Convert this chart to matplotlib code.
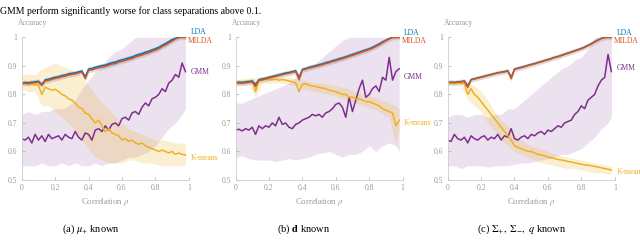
import numpy as np
import matplotlib
matplotlib.use("Agg")
import matplotlib.pyplot as plt

plt.rcParams['font.family'] = ['Liberation Serif', 'DejaVu Serif']
plt.rcParams['mathtext.fontset'] = 'stix'

# correlation grid for the mean curves and for the bands
rho = np.round(np.arange(0, 1.0, 0.02), 2)
rho_band = [0, .04, .08, .12, .16, .20, .24, .28, .32, .36, .40, .44, .48,
            .52, .56, .60, .64, .68, .72, .76, .80, .84, .88, .92, .96, .98]

# ---- panel (a): mu+ known
lda_a = [.84, .842, .841, .843, .844, .846, .835, .851, .853, .857, .86, .862, .866, .868, .872, .874, .876,
         .879, .882, .862, .889, .891, .895, .898, .901, .903, .907, .911, .913, .918, .921, .924, .928, .931,
         .936, .94, .943, .948, .951, .956, .96, .965, .972, .978, .985, .992, .997, 1.0, 1.0, 1.0]
milda_a = [.837, .839, .838, .840, .841, .843, .832, .847, .849, .853, .856, .858, .862, .864, .868, .870, .872,
           .875, .878, .855, .884, .886, .890, .893, .896, .898, .902, .906, .908, .913, .916, .919, .923, .926,
           .931, .935, .938, .943, .946, .951, .955, .960, .967, .973, .980, .987, .994, .999, 1.0, 1.0]
kmeans_a = [.84, .838, .835, .836, .834, .832, .80, .825, .82, .815, .818, .81, .80, .795, .785, .78, .77, .755,
            .75, .735, .73, .715, .70, .71, .69, .67, .68, .665, .66, .655, .64, .645, .635, .64, .63, .625, .63,
            .62, .615, .61, .605, .60, .605, .60, .595, .60, .59, .595, .59, .588]
kmeans_a_lo = [.82, .81, .81, .76, .76, .74, .72, .70, .67, .64, .61, .58, .57, .56, .56, .56, .57, .57, .56,
               .56, .555, .55, .55, .55, .55, .555]
kmeans_a_hi = [.87, .87, .87, .89, .90, .91, .90, .89, .88, .86, .83, .80, .77, .75, .72, .70, .68, .67, .66,
               .65, .64, .64, .635, .63, .63, .625]
gmm_a = [.645, .64, .65, .63, .66, .64, .655, .635, .66, .645, .65, .655, .64, .66, .65, .645, .67, .65, .64,
         .665, .66, .64, .675, .68, .67, .69, .675, .695, .70, .69, .715, .72, .71, .735, .74, .73, .755, .77,
         .76, .785, .79, .80, .82, .81, .84, .85, .87, .86, .91, .88]
gmm_a_lo = [.55, .55, .55, .56, .55, .55, .56, .55, .56, .55, .55, .56, .55, .56, .56, .57, .58, .58, .59, .60,
            .62, .65, .68, .70, .73, .75]
gmm_a_hi = [.73, .74, .73, .74, .74, .75, .75, .76, .78, .82, .85, .88, .90, .93, .95, .96, .98, 1.0, 1.0, 1.0,
            1.0, 1.0, 1.0, 1.0, 1.0, 1.0]

# ---- panel (b): d known
lda_b = [.842, .843, .842, .844, .845, .847, .835, .852, .854, .857, .86, .863, .866, .869, .872, .875, .877,
         .88, .883, .86, .888, .891, .895, .898, .901, .904, .907, .911, .914, .918, .921, .925, .928, .932,
         .936, .94, .944, .948, .952, .956, .96, .965, .971, .977, .984, .99, .996, 1.0, 1.0, 1.0]
milda_b = [.839, .840, .839, .841, .842, .844, .828, .849, .851, .854, .857, .860, .863, .866, .869, .872, .874,
           .877, .880, .852, .885, .888, .892, .895, .898, .901, .904, .908, .911, .915, .918, .922, .925, .929,
           .933, .937, .941, .945, .949, .953, .957, .962, .968, .974, .981, .988, .994, .999, 1.0, 1.0]
kmeans_b = [.84, .842, .843, .845, .846, .847, .81, .85, .852, .853, .852, .851, .853, .85, .852, .85, .847,
            .845, .84, .81, .835, .838, .832, .83, .828, .825, .822, .82, .815, .812, .81, .805, .80, .80, .79,
            .79, .785, .785, .78, .775, .775, .77, .765, .76, .75, .745, .74, .735, .69, .71]
kmeans_b_lo = [.83, .835, .835, .79, .84, .84, .84, .84, .835, .83, .82, .815, .81, .805, .80, .795, .785, .775,
               .77, .76, .755, .745, .73, .72, .62, .68]
kmeans_b_hi = [.85, .855, .857, .86, .862, .862, .862, .862, .86, .855, .85, .845, .84, .84, .835, .83, .825,
               .82, .81, .80, .795, .79, .78, .77, .76, .75]
gmm_b = [.675, .678, .672, .68, .675, .685, .66, .69, .68, .69, .685, .70, .69, .72, .695, .70, .685, .68, .695,
         .70, .71, .715, .72, .73, .725, .73, .72, .735, .74, .75, .765, .77, .755, .72, .79, .74, .78, .82, .85,
         .79, .80, .82, .83, .81, .86, .85, .93, .85, .88, .89]
gmm_b_lo = [.58, .585, .575, .57, .57, .57, .565, .57, .575, .57, .575, .58, .59, .595, .60, .59, .58, .59, .59,
            .60, .62, .60, .62, .63, .62, .60]
gmm_b_hi = [.77, .77, .78, .79, .80, .81, .82, .83, .84, .86, .88, .89, .91, .93, .95, .97, .99, 1.0, 1.0, 1.0,
            1.0, 1.0, 1.0, 1.0, 1.0, 1.0]

# ---- panel (c): Sigma+, Sigma-, q known
lda_c = [.842, .843, .842, .844, .845, .847, .83, .852, .855, .858, .861, .864, .867, .87, .873, .876, .878,
         .88, .883, .86, .889, .892, .895, .898, .902, .905, .908, .912, .915, .919, .922, .926, .93, .933,
         .937, .941, .945, .949, .953, .957, .961, .966, .972, .978, .985, .991, .997, 1.0, 1.0, 1.0]
milda_c = [.841, .842, .841, .843, .844, .846, .825, .851, .854, .857, .860, .863, .866, .869, .872, .875, .877,
           .879, .882, .855, .888, .891, .894, .897, .901, .904, .907, .911, .914, .918, .921, .925, .929, .932,
           .936, .940, .944, .948, .952, .956, .960, .965, .971, .977, .984, .990, .996, .999, 1.0, 1.0]
kmeans_c = [.84, .84, .841, .84, .839, .838, .80, .82, .80, .79, .775, .76, .745, .73, .715, .70, .685, .67,
            .655, .64, .62, .615, .61, .605, .60, .60, .595, .59, .588, .585, .58, .578, .575, .572, .57, .568,
            .565, .563, .56, .558, .555, .553, .552, .55, .548, .545, .543, .54, .538, .535]
kmeans_c_lo = [.83, .83, .83, .78, .76, .74, .70, .67, .64, .62, .60, .59, .58, .57, .56, .555, .55, .545, .54,
               .54, .535, .53, .525, .525, .52, .52]
kmeans_c_hi = [.85, .85, .85, .84, .83, .81, .78, .74, .71, .69, .66, .64, .625, .615, .61, .60, .59, .585, .58,
               .575, .57, .565, .56, .555, .55, .55]
gmm_c = [.64, .635, .66, .645, .64, .65, .63, .655, .645, .64, .65, .655, .64, .65, .645, .66, .64, .655, .65,
         .68, .645, .64, .65, .655, .645, .66, .655, .665, .67, .66, .675, .67, .68, .69, .685, .70, .705, .71,
         .73, .74, .76, .75, .78, .79, .80, .83, .85, .86, .94, .88]
gmm_c_lo = [.55, .55, .54, .55, .55, .55, .545, .55, .55, .55, .555, .56, .56, .565, .57, .575, .58, .59, .59,
            .60, .61, .63, .65, .68, .70, .72]
gmm_c_hi = [.72, .73, .73, .72, .73, .73, .72, .73, .73, .75, .75, .77, .79, .81, .83, .85, .87, .89, .90, .92,
            .93, .96, 1.0, 1.0, 1.0, 1.0]

lda_spread = 0.008   # half width of the grey band round LDA / MILDA

captions = [r"(a) $\mu_{+}$ known", r"(b) $\mathbf{d}$ known", r"(c) $\Sigma_{+},\ \Sigma_{-},\ q$ known"]
# label heights (accuracy units) for the curve names at the right of each panel
label_y = [(1.018, 0.988, 0.878, 0.577), (1.017, 0.988, 0.862, 0.700), (1.017, 0.988, 0.891, 0.529)]

panels = [
    (lda_a, milda_a, kmeans_a, kmeans_a_lo, kmeans_a_hi, gmm_a, gmm_a_lo, gmm_a_hi),
    (lda_b, milda_b, kmeans_b, kmeans_b_lo, kmeans_b_hi, gmm_b, gmm_b_lo, gmm_b_hi),
    (lda_c, milda_c, kmeans_c, kmeans_c_lo, kmeans_c_hi, gmm_c, gmm_c_lo, gmm_c_hi),
]

c_lda, c_milda, c_km, c_gmm = '#0072BD', '#D95319', '#EDB120', '#7E2F8E'
grey = '#a8a8a8'

fig = plt.figure(figsize=(6.4, 2.41), dpi=100)
lefts = [0.034, 0.368, 0.6995]
cap_x = [0.142, 0.475, 0.815]

for i, (lda, milda, km, km_lo, km_hi, gmm, gmm_lo, gmm_hi) in enumerate(panels):
    ax = fig.add_axes([lefts[i], 0.253, 0.261, 0.592])
    lda = np.array(lda); milda = np.array(milda)

    # bands first
    ax.fill_between(rho_band, gmm_lo, gmm_hi, color=c_gmm, alpha=0.14, lw=0)
    ax.fill_between(rho_band, km_lo, km_hi, color=c_km, alpha=0.2, lw=0)
    ax.fill_between(rho, np.minimum(lda, milda) - lda_spread, np.minimum(lda + lda_spread, 1.0),
                    color='#888888', alpha=0.3, lw=0)

    ax.plot(rho, gmm, color=c_gmm, lw=1.1)
    ax.plot(rho, km, color=c_km, lw=1.1)
    ax.plot(rho, lda, color=c_lda, lw=1.1)
    ax.plot(rho, milda, color=c_milda, lw=1.1)

    ax.set_xlim(0, 1)
    ax.set_ylim(0.5, 1)
    ax.set_xticks([0, 0.2, 0.4, 0.6, 0.8, 1])
    ax.set_xticklabels(['0', '0.2', '0.4', '0.6', '0.8', '1'])
    ax.set_yticks([0.5, 0.6, 0.7, 0.8, 0.9, 1])
    ax.set_yticklabels(['0.5', '0.6', '0.7', '0.8', '0.9', '1'])
    ax.tick_params(direction='in', length=2, width=0.5, color=grey, labelcolor='#999999', labelsize=5.5, pad=3)
    for s in ['top', 'right']:
        ax.spines[s].set_visible(False)
    for s in ['left', 'bottom']:
        ax.spines[s].set_color('#cccccc')
        ax.spines[s].set_linewidth(0.6)
    ax.set_xlabel(r"Correlation $\rho$", fontsize=6.3, color='#999999', labelpad=3)
    ax.text(-0.02, 1.1, "Accuracy", transform=ax.transAxes, fontsize=5.5, color='#999999',
            ha='left', va='center')

    names = ["LDA", "MILDA", "GMM", "K-means"]
    cols = [c_lda, c_milda, c_gmm, c_km]
    xs = [1.01, 0.995, 1.01, 1.01]
    for name, col, yv, xv in zip(names, cols, label_y[i], xs):
        ax.text(xv, yv, name, transform=ax.get_yaxis_transform(), color=col, fontsize=5.5,
                ha='left', va='center', clip_on=False)

    fig.text(cap_x[i], 0.05, captions[i], ha='center', va='center', fontsize=7.5)

fig.text(0.0, 0.955, "GMM perform significantly worse for class separations above 0.1.",
         ha='left', va='center', fontsize=7)

fig.savefig("out.png", dpi=100)
